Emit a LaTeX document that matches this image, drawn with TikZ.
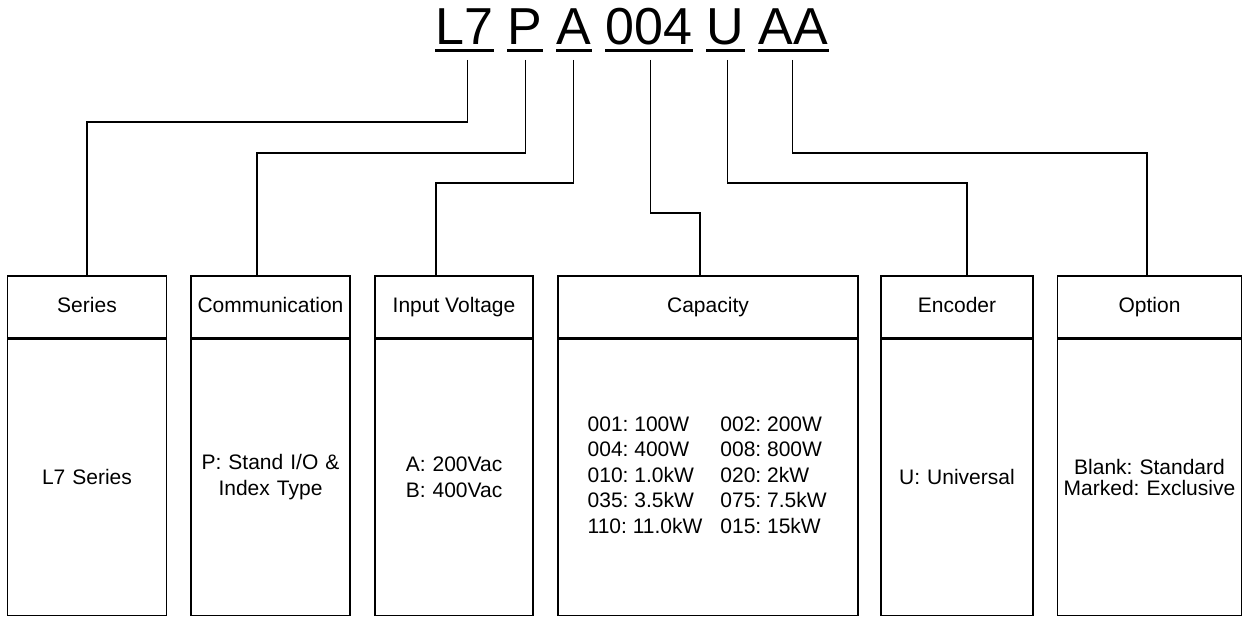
\documentclass[tikz,border=0pt]{standalone}
\usepackage{fontspec}
\setmainfont{Liberation Sans}
\frenchspacing
\begin{document}
\begin{tikzpicture}[x=1pt,y=-1pt,
  line width=1.3pt,
  word/.style={inner sep=0pt,anchor=base west,font=\fontsize{52}{60}\selectfont},
  hdr/.style={draw,minimum height=62pt,inner sep=0pt,text height=15.5pt,text depth=3.5pt,font=\fontsize{21}{26}\selectfont},
  body/.style={draw,minimum height=276pt,inner sep=0pt,anchor=north,align=center,font=\fontsize{21}{26}\selectfont},
  ul/.style={line width=3.5pt},
  conn/.style={line width=1.3pt}]
\useasboundingbox (0,0) rectangle (1243,617);
% code words
\node[word] (w1) at (435,45) {L7};
\node[word] (w2) at (507,45) {P};
\node[word] (w3) at (556,45) {A};
\node[word] (w4) at (605,45) {004};
\node[word] (w5) at (706,45) {U};
\node[word] (w6) at (758,45) {AA};
\foreach \w in {w1,w2,w3,w4,w5,w6}
  \draw[ul] ([yshift=-5.5pt]\w.base west) -- ([yshift=-5.5pt]\w.base east);
% boxes
\node[hdr,minimum width=159pt] (h1) at (87,307) {Series};
\node[body,text width=159pt,minimum width=159pt] (b1) at (h1.south) {L7 Series};
\node[hdr,minimum width=159pt] (h2) at (270.5,307) {Communication};
\node[body,text width=159pt,minimum width=159pt] (b2) at (h2.south) {P: Stand I/O \&\\Index Type};
\node[hdr,minimum width=158pt] (h3) at (454,307) {Input Voltage};
\node[body,text width=158pt,minimum width=158pt] (b3) at (h3.south) {A: 200Vac\\B: 400Vac};
\node[hdr,minimum width=300pt] (h4) at (708,307) {Capacity};
\node[body,minimum width=300pt] (b4) at (h4.south) {};
\node[inner sep=0pt,anchor=west,font=\fontsize{21}{25.5}\selectfont] (cap) at (587,477)
  {\begin{tabular}{@{}l@{\hspace{18pt}}l@{}}
   001: 100W & 002: 200W\\
   004: 400W & 008: 800W\\
   010: 1.0kW & 020: 2kW\\
   035: 3.5kW & 075: 7.5kW\\
   110: 11.0kW & 015: 15kW
   \end{tabular}};
\node[hdr,minimum width=152pt] (h5) at (957,307) {Encoder};
\node[body,text width=152pt,minimum width=152pt] (b5) at (h5.south) {U: Universal};
\node[hdr,minimum width=184pt] (h6) at (1149.5,307) {Option};
\node[body,text width=184pt,minimum width=184pt,font=\fontsize{21}{20.5}\selectfont] (b6) at (h6.south) {Blank: Standard\\Marked: Exclusive};
% connector rows and ends
\coordinate (r1) at (0,122);
\coordinate (r2) at (0,153);
\coordinate (r3) at (0,183);
\coordinate (r4) at (0,213);
\coordinate (e1) at (h1.north);
\coordinate (e2) at ([xshift=-13.5pt]h2.north);
\coordinate (e3) at ([xshift=-18pt]h3.north);
\coordinate (e4) at ([xshift=-8pt]h4.north);
\coordinate (e5) at ([xshift=10pt]h5.north);
\coordinate (e6) at ([xshift=-2.5pt]h6.north);
\coordinate (s1) at ([xshift=3pt,yshift=-15pt]w1.base);
\coordinate (s2) at ([xshift=0.5pt,yshift=-15pt]w2.base);
\coordinate (s3) at ([xshift=-0.5pt,yshift=-15pt]w3.base);
\coordinate (s4) at ([xshift=1.5pt,yshift=-15pt]w4.base);
\coordinate (s5) at ([xshift=2pt,yshift=-15pt]w5.base);
\coordinate (s6) at ([xshift=-0.5pt,yshift=-15pt]w6.base);
\draw[conn] (s1) |- (e1 |- r1) -- (e1);
\draw[conn] (s2) |- (e2 |- r2) -- (e2);
\draw[conn] (s3) |- (e3 |- r3) -- (e3);
\draw[conn] (s4) |- (e4 |- r4) -- (e4);
\draw[conn] (s5) |- (e5 |- r3) -- (e5);
\draw[conn] (s6) |- (e6 |- r2) -- (e6);
\end{tikzpicture}
\end{document}
